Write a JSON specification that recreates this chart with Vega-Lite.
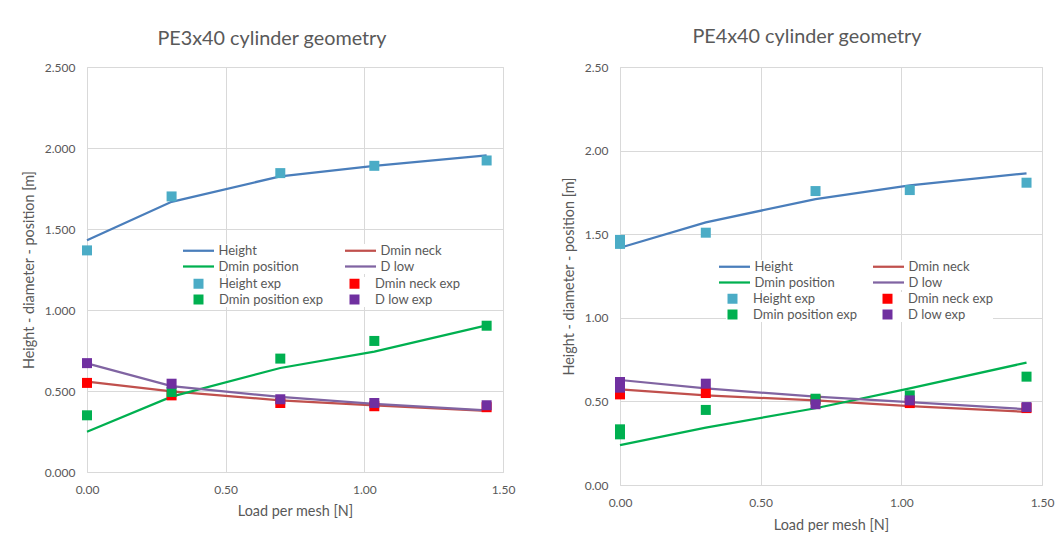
{
  "$schema": "https://vega.github.io/schema/vega-lite/v6.json",
  "background": "white",
  "padding": {"left": 20, "top": 26, "right": 0, "bottom": 0},
  "spacing": 44,
  "align": "none",
  "config": {
    "font": "Lato",
    "view": {"stroke": "#d9d9d9", "strokeWidth": 1},
    "axis": {"domain": false, "ticks": false, "grid": true, "gridColor": "#d9d9d9", "labelColor": "#595959", "titleColor": "#595959", "labelFontSize": 12, "titleFontSize": 14.4, "titleFontWeight": "normal", "labelFont": "Lato", "titleFont": "Lato"},
    "title": {"fontSize": 19.8, "fontWeight": "normal", "color": "#595959", "font": "Lato"},
    "legend": {"labelColor": "#595959", "labelFontSize": 13, "labelFont": "Lato"}
  },
  "datasets": {
    "pe3_lines": [
      {"series": "Height", "load": 0, "value": 1.430},
      {"series": "Height", "load": 0.305, "value": 1.668},
      {"series": "Height", "load": 0.697, "value": 1.825},
      {"series": "Height", "load": 1.036, "value": 1.890},
      {"series": "Height", "load": 1.441, "value": 1.955},
      {"series": "Dmin neck", "load": 0, "value": 0.558},
      {"series": "Dmin neck", "load": 0.305, "value": 0.498},
      {"series": "Dmin neck", "load": 0.697, "value": 0.442},
      {"series": "Dmin neck", "load": 1.036, "value": 0.411},
      {"series": "Dmin neck", "load": 1.441, "value": 0.377},
      {"series": "Dmin position", "load": 0, "value": 0.248},
      {"series": "Dmin position", "load": 0.305, "value": 0.465},
      {"series": "Dmin position", "load": 0.697, "value": 0.642},
      {"series": "Dmin position", "load": 1.036, "value": 0.743},
      {"series": "Dmin position", "load": 1.441, "value": 0.905},
      {"series": "D low", "load": 0, "value": 0.670},
      {"series": "D low", "load": 0.305, "value": 0.530},
      {"series": "D low", "load": 0.697, "value": 0.463},
      {"series": "D low", "load": 1.036, "value": 0.420},
      {"series": "D low", "load": 1.441, "value": 0.381}
    ],
    "pe3_exp": [
      {"series": "Height exp", "load": 0, "value": 1.368},
      {"series": "Height exp", "load": 0.305, "value": 1.701},
      {"series": "Height exp", "load": 0.697, "value": 1.845},
      {"series": "Height exp", "load": 1.036, "value": 1.890},
      {"series": "Height exp", "load": 1.441, "value": 1.923},
      {"series": "Dmin neck exp", "load": 0, "value": 0.550},
      {"series": "Dmin neck exp", "load": 0.305, "value": 0.473},
      {"series": "Dmin neck exp", "load": 0.697, "value": 0.426},
      {"series": "Dmin neck exp", "load": 1.036, "value": 0.406},
      {"series": "Dmin neck exp", "load": 1.441, "value": 0.400},
      {"series": "Dmin position exp", "load": 0, "value": 0.350},
      {"series": "Dmin position exp", "load": 0.305, "value": 0.494},
      {"series": "Dmin position exp", "load": 0.697, "value": 0.700},
      {"series": "Dmin position exp", "load": 1.036, "value": 0.809},
      {"series": "Dmin position exp", "load": 1.441, "value": 0.903},
      {"series": "D low exp", "load": 0, "value": 0.672},
      {"series": "D low exp", "load": 0.305, "value": 0.545},
      {"series": "D low exp", "load": 0.697, "value": 0.449},
      {"series": "D low exp", "load": 1.036, "value": 0.426},
      {"series": "D low exp", "load": 1.441, "value": 0.412}
    ],
    "pe4_lines": [
      {"series": "Height", "load": 0, "value": 1.419},
      {"series": "Height", "load": 0.305, "value": 1.571},
      {"series": "Height", "load": 0.695, "value": 1.710},
      {"series": "Height", "load": 1.03, "value": 1.792},
      {"series": "Height", "load": 1.445, "value": 1.864},
      {"series": "Dmin neck", "load": 0, "value": 0.572},
      {"series": "Dmin neck", "load": 0.305, "value": 0.536},
      {"series": "Dmin neck", "load": 0.695, "value": 0.506},
      {"series": "Dmin neck", "load": 1.03, "value": 0.472},
      {"series": "Dmin neck", "load": 1.445, "value": 0.438},
      {"series": "Dmin position", "load": 0, "value": 0.239},
      {"series": "Dmin position", "load": 0.305, "value": 0.343},
      {"series": "Dmin position", "load": 0.695, "value": 0.459},
      {"series": "Dmin position", "load": 1.03, "value": 0.578},
      {"series": "Dmin position", "load": 1.445, "value": 0.732},
      {"series": "D low", "load": 0, "value": 0.628},
      {"series": "D low", "load": 0.305, "value": 0.578},
      {"series": "D low", "load": 0.695, "value": 0.528},
      {"series": "D low", "load": 1.03, "value": 0.496},
      {"series": "D low", "load": 1.445, "value": 0.453}
    ],
    "pe4_exp": [
      {"series": "Height exp", "load": 0, "value": 1.466},
      {"series": "Height exp", "load": 0, "value": 1.442},
      {"series": "Height exp", "load": 0.305, "value": 1.509},
      {"series": "Height exp", "load": 0.695, "value": 1.758},
      {"series": "Height exp", "load": 1.03, "value": 1.764},
      {"series": "Height exp", "load": 1.445, "value": 1.808},
      {"series": "Dmin neck exp", "load": 0, "value": 0.542},
      {"series": "Dmin neck exp", "load": 0.305, "value": 0.550},
      {"series": "Dmin neck exp", "load": 0.695, "value": 0.510},
      {"series": "Dmin neck exp", "load": 1.03, "value": 0.490},
      {"series": "Dmin neck exp", "load": 1.445, "value": 0.460},
      {"series": "Dmin position exp", "load": 0, "value": 0.333},
      {"series": "Dmin position exp", "load": 0, "value": 0.303},
      {"series": "Dmin position exp", "load": 0.305, "value": 0.449},
      {"series": "Dmin position exp", "load": 0.695, "value": 0.516},
      {"series": "Dmin position exp", "load": 1.03, "value": 0.536},
      {"series": "Dmin position exp", "load": 1.445, "value": 0.648},
      {"series": "D low exp", "load": 0, "value": 0.616},
      {"series": "D low exp", "load": 0, "value": 0.582},
      {"series": "D low exp", "load": 0.305, "value": 0.606},
      {"series": "D low exp", "load": 0.695, "value": 0.483},
      {"series": "D low exp", "load": 1.03, "value": 0.506},
      {"series": "D low exp", "load": 1.445, "value": 0.466}
    ]
  },
  "resolve": {
    "scale": {"x": "independent", "y": "independent", "color": "independent", "fill": "independent"},
    "legend": {"color": "independent", "fill": "independent"}
  },
  "hconcat": [
    {
      "width": 416,
      "height": 405,
      "title": {"text": "PE3x40 cylinder geometry", "offset": 12, "dx": -23},
      "layer": [
        {
          "data": {"name": "pe3_lines"},
          "mark": {"type": "line", "strokeWidth": 2.25},
          "encoding": {
            "x": {"field": "load", "type": "quantitative", "scale": {"domain": [0, 1.5], "nice": false}, "axis": {"values": [0, 0.5, 1, 1.5], "format": ".2f", "title": "Load per mesh [N]", "labelFlush": false, "labelPadding": 12, "titlePadding": 9}},
            "y": {"field": "value", "type": "quantitative", "scale": {"domain": [0, 2.5], "nice": false}, "axis": {"values": [0, 0.5, 1, 1.5, 2, 2.5], "format": ".3f", "title": "Height - diameter - position [m]", "labelPadding": 12, "titlePadding": 8}},
            "color": {"field": "series", "type": "nominal", "sort": null,
              "scale": {"domain": ["Height", "Dmin position", "Dmin neck", "D low"], "range": ["#4a7ebb", "#00b050", "#c0504d", "#8064a2"]},
              "legend": {"orient": "none", "legendX": 105, "legendY": 177, "columns": 2, "symbolType": "M-3.1,0H3.1", "symbolSize": 100, "symbolStrokeWidth": 2.25, "labelOffset": 13.5, "columnPadding": 41, "rowPadding": 2, "title": null, "fillColor": "white"}}
          }
        },
        {
          "data": {"name": "pe3_exp"},
          "mark": {"type": "square", "size": 100, "opacity": 1, "filled": true, "strokeWidth": 0},
          "encoding": {
            "x": {"field": "load", "type": "quantitative"},
            "y": {"field": "value", "type": "quantitative"},
            "fill": {"field": "series", "type": "nominal", "sort": null,
              "scale": {"domain": ["Height exp", "Dmin position exp", "Dmin neck exp", "D low exp"], "range": ["#4bacc6", "#00b050", "#ff0000", "#7030a0"]},
              "legend": {"orient": "none", "legendX": 105, "legendY": 210, "columns": 2, "symbolType": "square", "symbolSize": 100, "labelOffset": 14, "columnPadding": 24, "rowPadding": 2, "title": null, "fillColor": "white"}}
          }
        }
      ]
    },
    {
      "width": 422,
      "height": 418,
      "title": {"text": "PE4x40 cylinder geometry", "offset": 14, "dx": -24},
      "layer": [
        {
          "data": {"name": "pe4_lines"},
          "mark": {"type": "line", "strokeWidth": 2.25},
          "encoding": {
            "x": {"field": "load", "type": "quantitative", "scale": {"domain": [0, 1.5], "nice": false}, "axis": {"values": [0, 0.5, 1, 1.5], "format": ".2f", "title": "Load per mesh [N]", "labelFlush": false, "labelPadding": 12, "titlePadding": 10}},
            "y": {"field": "value", "type": "quantitative", "scale": {"domain": [0, 2.5], "nice": false}, "axis": {"values": [0, 0.5, 1, 1.5, 2, 2.5], "format": ".2f", "title": "Height - diameter - position [m]", "labelPadding": 12, "titlePadding": 8}},
            "color": {"field": "series", "type": "nominal", "sort": null,
              "scale": {"domain": ["Height", "Dmin position", "Dmin neck", "D low"], "range": ["#4a7ebb", "#00b050", "#c0504d", "#8064a2"]},
              "legend": {"orient": "none", "legendX": 108, "legendY": 193, "columns": 2, "symbolType": "M-3.1,0H3.1", "symbolSize": 100, "symbolStrokeWidth": 2.25, "labelOffset": 13.5, "columnPadding": 33, "rowPadding": 2, "title": null, "fillColor": "white"}}
          }
        },
        {
          "data": {"name": "pe4_exp"},
          "mark": {"type": "square", "size": 100, "opacity": 1, "filled": true, "strokeWidth": 0},
          "encoding": {
            "x": {"field": "load", "type": "quantitative"},
            "y": {"field": "value", "type": "quantitative"},
            "fill": {"field": "series", "type": "nominal", "sort": null,
              "scale": {"domain": ["Height exp", "Dmin position exp", "Dmin neck exp", "D low exp"], "range": ["#4bacc6", "#00b050", "#ff0000", "#7030a0"]},
              "legend": {"orient": "none", "legendX": 106, "legendY": 225, "columns": 2, "symbolType": "square", "symbolSize": 100, "labelOffset": 14, "columnPadding": 23, "rowPadding": 2, "title": null, "fillColor": "white"}}
          }
        }
      ]
    }
  ]
}
